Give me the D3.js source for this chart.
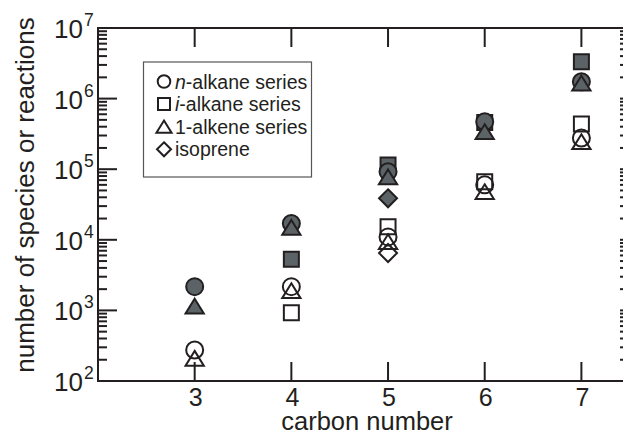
<!DOCTYPE html>
<html>
<head>
<script src="https://d3js.org/d3.v7.min.js"></script>
<style>
body {margin:0; background:#fff;}
text {font-family: "Liberation Sans", Arial, sans-serif; fill:#231f20;}
</style>
</head>
<body>
<svg id="chart" width="623" height="437"></svg>
<script>
// carbon numbers per series
var carbons = [3, 4, 5, 6, 7];
var iCarbons = [4, 5, 6, 7];
var isoCarbons = [5];

// open symbols = species, filled symbols = reactions
var nSpecies = [275, 2170, 11000, 60000, 277000];
var nReactions = [2170, 17000, 92000, 471000, 1730000];
var iSpecies = [930, 15300, 66500, 437000];
var iReactions = [5300, 115000, 460000, 3330000];
var eneSpecies = [210, 1900, 9400, 48000, 245000];
var eneReactions = [1150, 15000, 78000, 340000, 1660000];
var isoSpecies = [6500];
var isoReactions = [38700];

var xTicks = [3, 4, 5, 6, 7];
var yPowers = [2, 3, 4, 5, 6, 7];

var legendItalic = ["n", "i", "", ""];
var legendRest = ["-alkane series", "-alkane series", "1-alkene series", "isoprene"];
var legendShapes = ["circle", "square", "triangle", "diamond"];

var ink = "#231f20", grey = "#5c6367";

var svg = d3.select("#chart");
var pLeft = 98, pRight = 622, pTop = 28, pBottom = 381;

var x = d3.scaleLinear().domain([2, 7.42]).range([pLeft, pRight]);
var y = d3.scaleLog().domain([1e2, 1e7]).range([pBottom, pTop]);

function shape(kind, s) {
    if (kind == "circle") {
        var p = d3.path(); p.arc(0, 0, s, 0, 2 * Math.PI); p.closePath(); return p.toString();
    }
    if (kind == "square") return "M" + (-s) + "," + (-s) + "H" + s + "V" + s + "H" + (-s) + "Z";
    if (kind == "triangle") return "M0," + (-0.85 * s) + "L" + (1.05 * s) + "," + (0.85 * s) + "L" + (-1.05 * s) + "," + (0.85 * s) + "Z";
    return "M0," + (-s) + "L" + s + ",0L0," + s + "L" + (-s) + ",0Z";
}

// minor ticks on the left
var minors = [];
yPowers.slice(0, -1).forEach(p => { for (var k = 2; k < 10; k++) minors.push(k * Math.pow(10, p)); });

var g = svg.append("g").attr("stroke", ink).attr("stroke-width", 2);
g.append("g").selectAll("line").data(minors).join("line")
    .attr("x1", pLeft).attr("x2", pLeft + 9).attr("y1", d => y(d)).attr("y2", d => y(d));
g.append("g").selectAll("line").data(yPowers).join("line")
    .attr("x1", pLeft).attr("x2", pLeft + 19).attr("y1", d => y(Math.pow(10, d))).attr("y2", d => y(Math.pow(10, d)));
// right edge stubs
g.append("g").selectAll("line").data(minors.concat(yPowers.map(p => Math.pow(10, p)))).join("line")
    .attr("x1", 620).attr("x2", 623).attr("y1", d => y(d)).attr("y2", d => y(d));
g.append("g").selectAll("line").data(xTicks).join("line")
    .attr("x1", d => x(d)).attr("x2", d => x(d)).attr("y1", pBottom).attr("y2", pBottom - 19);
g.append("g").selectAll("line").data(xTicks).join("line")
    .attr("x1", d => x(d)).attr("x2", d => x(d)).attr("y1", pTop).attr("y2", pTop + 19);
g.append("line").attr("x1", pLeft).attr("x2", 623).attr("y1", pTop).attr("y2", pTop);
g.append("line").attr("x1", pLeft).attr("x2", 623).attr("y1", pBottom).attr("y2", pBottom);
g.append("line").attr("x1", pLeft).attr("x2", pLeft).attr("y1", pTop - 1).attr("y2", pBottom + 1);

// tick labels
svg.append("g").selectAll("text").data(yPowers).join("text")
    .attr("x", 83).attr("y", d => y(Math.pow(10, d)) + 10)
    .attr("text-anchor", "end").attr("font-size", 26).text("10");
svg.append("g").selectAll("text").data(yPowers).join("text")
    .attr("x", 84).attr("y", d => y(Math.pow(10, d)) - 2)
    .attr("font-size", 17.5).text(d => d);

svg.append("g").selectAll("text").data(xTicks).join("text")
    .attr("x", d => x(d) + 1).attr("y", 406)
    .attr("text-anchor", "middle").attr("font-size", 25).text(d => d);

svg.append("text").attr("x", 367).attr("y", 430).attr("text-anchor", "middle")
    .attr("font-size", 25.5).text("carbon number");
svg.append("text").attr("transform", "translate(34,195) rotate(-90)").attr("text-anchor", "middle")
    .attr("font-size", 26).text("number of species or reactions");

// points
var series = [
    {kind: "square", xs: iCarbons, open: iSpecies, filled: iReactions},
    {kind: "circle", xs: carbons, open: nSpecies, filled: nReactions},
    {kind: "triangle", xs: carbons, open: eneSpecies, filled: eneReactions},
    {kind: "diamond", xs: isoCarbons, open: isoSpecies, filled: isoReactions}
];
var sizes = {circle: 8.5, square: 7.5, triangle: 8.7, diamond: 9};

series.forEach(s => {
    ["filled", "open"].forEach(type => {
        svg.append("g").selectAll("path").data(s.xs.map((c, i) => [c, s[type][i]])).join("path")
            .attr("d", shape(s.kind, sizes[s.kind]))
            .attr("transform", d => "translate(" + x(d[0]) + "," + y(d[1]) + ")")
            .attr("fill", type == "filled" ? grey : "none")
            .attr("stroke", ink).attr("stroke-width", 2);
    });
});

// legend
svg.append("rect").attr("x", 143.5).attr("y", 62).attr("width", 168).attr("height", 115)
    .attr("fill", "#fff").attr("stroke", "#555").attr("stroke-width", 1.2);
var lsizes = {circle: 6.3, square: 6, triangle: 7.2, diamond: 7};
var leg = svg.append("g").selectAll("g").data(legendShapes).join("g")
    .attr("transform", (d, i) => "translate(164," + (81.5 + i * 22.6) + ")");
leg.append("path").attr("d", d => shape(d, lsizes[d]))
    .attr("fill", "none").attr("stroke", ink).attr("stroke-width", 2);
var lt = leg.append("text").attr("x", 11).attr("y", 7).attr("font-size", 19.5);
lt.append("tspan").attr("font-style", "italic").text((d, i) => legendItalic[i]);
lt.append("tspan").text((d, i) => legendRest[i]);
</script>
</body>
</html>
